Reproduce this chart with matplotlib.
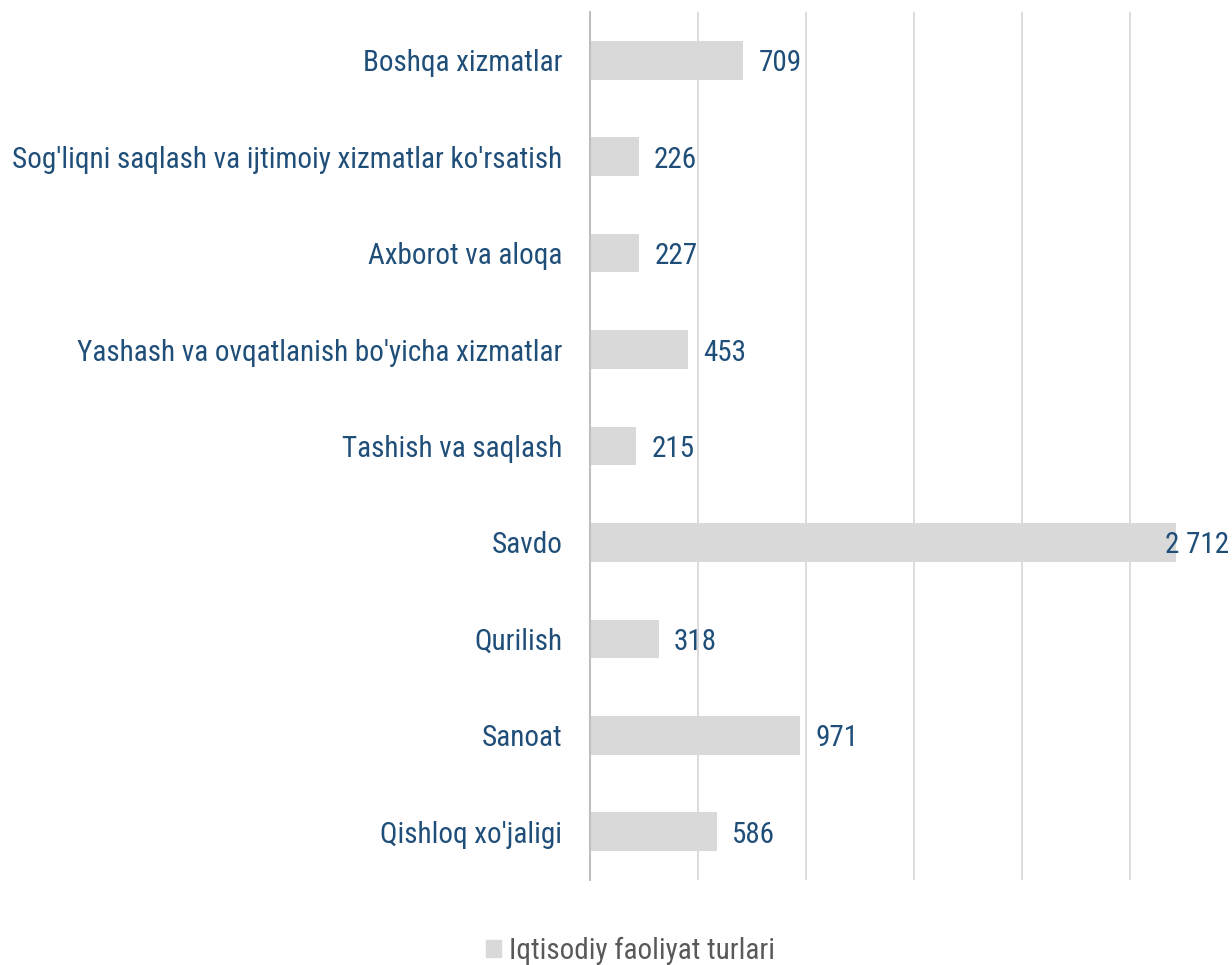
import matplotlib
matplotlib.use("Agg")
import matplotlib.pyplot as plt
from matplotlib import font_manager as fm
from matplotlib.patches import Patch

categories = ["Qishloq xo'jaligi", "Sanoat", "Qurilish", "Savdo", "Tashish va saqlash",
              "Yashash va ovqatlanish bo'yicha xizmatlar", "Axborot va aloqa",
              "Sog'liqni saqlash va ijtimoiy xizmatlar ko'rsatish", "Boshqa xizmatlar"]
values = [586, 971, 318, 2712, 215, 453, 227, 226, 709]
series_name = "Iqtisodiy faoliyat turlari"

names = {f.name for f in fm.fontManager.ttflist}
font = next((n for n in ["Roboto Condensed", "Liberation Sans Narrow", "DejaVu Sans Condensed", "Roboto"]
             if n in names), "DejaVu Sans")
plt.rcParams['font.family'] = [font, 'DejaVu Sans']

blue = '#1F4E79'
fs = 21
fig = plt.figure(figsize=(12.32, 9.65), dpi=100)
ax = fig.add_axes([590 / 1232, 1 - 880 / 965, 1 - 590 / 1232, 868 / 965])

y = range(len(categories))
ax.barh(y, values, height=0.4, color='#D9D9D9', zorder=2)
ax.set_xlim(0, 2972)
ax.set_ylim(-0.5, len(categories) - 0.5)
ax.set_xticks(range(0, 3000, 500))
ax.set_xticklabels([])
ax.grid(axis='x', color='#D9D9D9', linewidth=1.3, zorder=0)
ax.set_yticks(list(y))
ax.set_yticklabels(categories, color=blue, fontsize=fs)
ax.tick_params(axis='both', length=0)
ax.tick_params(axis='y', pad=20)
for s in ['top', 'right', 'bottom']:
    ax.spines[s].set_visible(False)
ax.spines['left'].set_color('#BFBFBF')
ax.spines['left'].set_linewidth(1.5)

def fmt(v):
    return f"{v:,}".replace(",", " ")

xmax = ax.get_xlim()[1]
for i, v in zip(y, values):
    if v > xmax * 0.85:
        # label would run past the edge: pull it back inside
        ax.annotate(fmt(v), xy=(1, i), xycoords=ax.get_yaxis_transform(), xytext=(-2, 0),
                    textcoords='offset points', ha='right', va='center_baseline', color=blue, fontsize=fs)
    else:
        ax.annotate(fmt(v), xy=(v, i), xytext=(11, 0), textcoords='offset points',
                    ha='left', va='center_baseline', color=blue, fontsize=fs)

fig.legend(handles=[Patch(color='#D9D9D9')], labels=[series_name], loc='lower center',
           bbox_to_anchor=(0.512, -0.027), frameon=False, fontsize=fs, labelcolor='#595959',
           handlelength=0.5, handleheight=0.5, handletextpad=0.3)

fig.savefig("out.png", dpi=100)
